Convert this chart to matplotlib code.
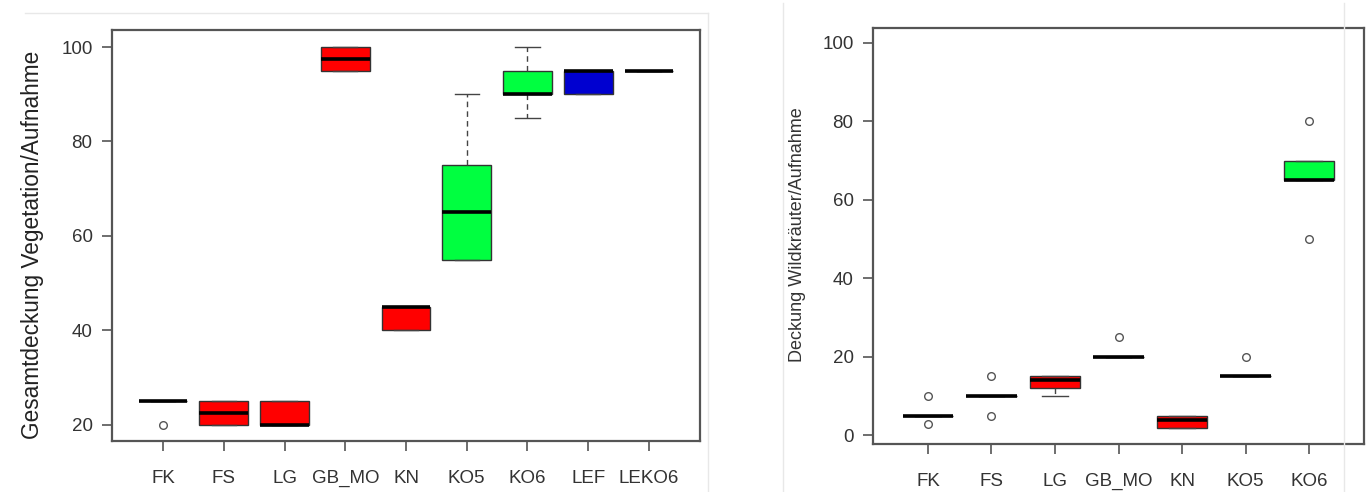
import numpy as np
import matplotlib
matplotlib.use("Agg")
from matplotlib import pyplot as plt
from matplotlib.lines import Line2D

plt.rcParams['font.family'] = ['Liberation Sans', 'DejaVu Sans']

# linke Grafik: Gesamtdeckung Vegetation
cat_ges = ['FK', 'FS', 'LG', 'GB_MO', 'KN', 'KO5', 'KO6', 'LEF', 'LEKO6']
ges_q1 = [25, 20, 20, 95, 40, 55, 90, 90, 95]
ges_med = [25, 22.5, 20, 97.5, 45, 65, 90, 95, 95]
ges_q3 = [25, 25, 25, 100, 45, 75, 95, 95, 95]
ges_lo = [25, 20, 20, 95, 40, 55, 85, 90, 95]
ges_hi = [25, 25, 25, 100, 45, 90, 100, 95, 95]
ges_out = [[20], [], [], [], [], [], [], [], []]
ges_col = ['#ff0000', '#ff0000', '#ff0000', '#ff0000', '#ff0000',
           '#00ff40', '#00ff40', '#0000d0', '#ff0000']

# rechte Grafik: Deckung Wildkraeuter
cat_wild = ['FK', 'FS', 'LG', 'GB_MO', 'KN', 'KO5', 'KO6']
wild_q1 = [5, 10, 12, 20, 2, 15, 65]
wild_med = [5, 10, 14, 20, 4, 15, 65]
wild_q3 = [5, 10, 15, 20, 5, 15, 70]
wild_lo = [5, 10, 10, 20, 2, 15, 65]
wild_hi = [5, 10, 15, 20, 5, 15, 70]
wild_out = [[10, 3], [15, 5], [], [25], [], [20], [80, 50]]
wild_col = ['#ff0000', '#ff0000', '#ff0000', '#ff0000', '#ff0000',
            '#ff0000', '#00ff40']


def boxen(ax, q1, med, q3, lo, hi, out, cols, labels):
    stats = []
    for i in range(len(med)):
        stats.append(dict(q1=q1[i], med=med[i], q3=q3[i], whislo=lo[i],
                          whishi=hi[i], fliers=out[i], label=labels[i]))
    n = len(stats)
    bp = ax.bxp(stats, positions=np.arange(1, n + 1), widths=0.8,
                capwidths=[0.4] * n, patch_artist=True,
                boxprops=dict(edgecolor='#333333', linewidth=1.0),
                medianprops=dict(color='black', linewidth=2.6, solid_capstyle='butt'),
                whiskerprops=dict(color='#444444', linewidth=1.0, linestyle=(0, (4, 3))),
                capprops=dict(color='#444444', linewidth=1.0),
                flierprops=dict(marker='o', markersize=5.5, markerfacecolor='none',
                                markeredgecolor='#555555', markeredgewidth=1.0))
    for p, c in zip(bp['boxes'], cols):
        p.set_facecolor(c)
    for s in ax.spines.values():
        s.set_color('#555555')
        s.set_linewidth(1.6)
    ax.tick_params(length=7, width=1.2, color='#555555', labelsize=13.5,
                   labelcolor='#333333', pad=7)
    ax.tick_params(axis='x', pad=14)
    ax.set_yticks([t for t in range(0, 101, 20)])


fig = plt.figure(figsize=(13.71, 4.92), dpi=100)

ax1 = fig.add_axes([112 / 1371, 51 / 492, 588 / 1371, 411 / 492])
boxen(ax1, ges_q1, ges_med, ges_q3, ges_lo, ges_hi, ges_out, ges_col, cat_ges)
ax1.set_xlim(0.16, 9.84)
ax1.set_ylim(16.6, 103.6)
ax1.set_yticks([20, 40, 60, 80, 100])
fig.text(33 / 1371, 1 - 245 / 492, 'Gesamtdeckung Vegetation/Aufnahme', rotation=90,
         ha='center', va='center', fontsize=16.3, color='#222222')

ax2 = fig.add_axes([873 / 1371, 48 / 492, 491 / 1371, 416 / 492])
boxen(ax2, wild_q1, wild_med, wild_q3, wild_lo, wild_hi, wild_out, wild_col, cat_wild)
ax2.set_xlim(0.134, 7.866)
ax2.set_ylim(-2.2, 103.8)
fig.text(797 / 1371, 1 - 235 / 492, 'Deckung Wildkräuter/Aufnahme', rotation=90,
         ha='center', va='center', fontsize=13, color='#333333')

# leichte Rahmen der Screenshots
rahmen = [((25, 708), (13, 13)), ((708, 708), (13, 492)),
          ((783, 783), (3, 492)), ((1344, 1344), (3, 492))]
for xs, ys in rahmen:
    fig.add_artist(Line2D([x / 1371 for x in xs], [1 - y / 492 for y in ys],
                          color='#e8e8e8', linewidth=1.0))

fig.savefig('out.png', dpi=100)
